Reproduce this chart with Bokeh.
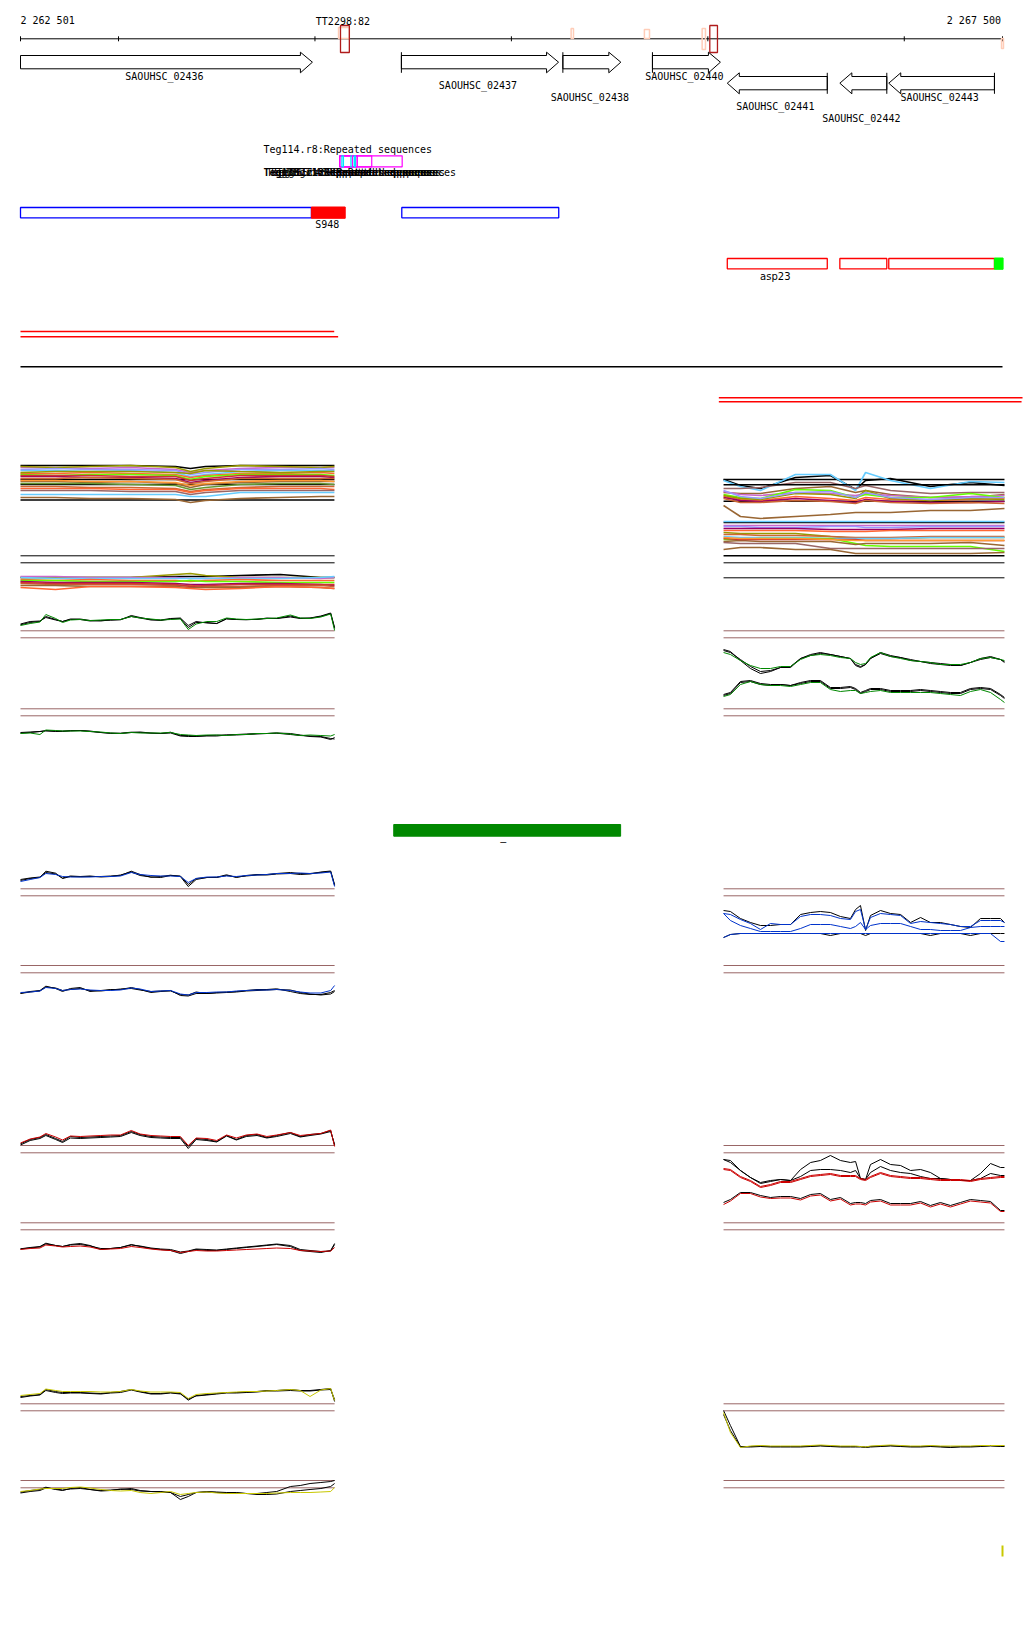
from bokeh.plotting import figure
from bokeh.models import Range1d
from bokeh.embed import file_html
from bokeh.resources import INLINE
from bokeh.core.properties import value

# ======================= DATA =======================
WIN_START = 2262501
WIN_END = 2267500
RULER_TICKS = [2262501, 2263000, 2264000, 2265000, 2266000, 2267000, 2267500]
RULER_LEFT_LABEL = "2 262 501"
RULER_RIGHT_LABEL = "2 267 500"

GENE_NAMES = ["SAOUHSC_02436", "SAOUHSC_02437", "SAOUHSC_02438", "SAOUHSC_02440",
              "SAOUHSC_02441", "SAOUHSC_02442", "SAOUHSC_02443"]
GENE_START = [2262300, 2264440, 2265262, 2265718, 2266099, 2266672, 2266921]
GENE_END = [2263987, 2265240, 2265557, 2266064, 2266608, 2266911, 2267459]
GENE_STRAND = [1, 1, 1, 1, -1, -1, -1]

TERM_NAMES = ["TT2298:82", ""]
TERM_START = [2264130, 2266010]
TERM_END = [2264175, 2266049]

TSS_START = [2264120, 2265304, 2265677, 2265971, 2267495]
TSS_END = [2264175, 2265316, 2265703, 2265988, 2267505]

REPEAT_NAMES = ["Teg114.r8:Repeated sequences", "Teg135.r1:Repeated sequences",
                "Teg136.r4:Repeated sequences", "Teg137.r2:Repeated sequences",
                "Teg115.r6:Repeated sequences", "Teg116.r3:Repeated sequences",
                "Teg117.r5:Repeated sequences"]
REPEAT_START = [2264126, 2264126, 2264126, 2264137, 2264183, 2264191, 2264200]
REPEAT_END = [2264444, 2264289, 2264215, 2264145, 2264191, 2264215, 2264206]

TRANSCRIPT_START = [2262501, 2264442]
TRANSCRIPT_END = [2263982, 2265241]
SRNA_NAMES = ["S948"]
SRNA_START = [2263982]
SRNA_END = [2264154]

OPERON_NAMES = ["asp23", "", ""]
OPERON_START = [2266099, 2266672, 2266921]
OPERON_END = [2266608, 2266911, 2267459]
OPERON_END_MARK = [2267459, 2267503]

TILE_START = [2262501, 2262501, 2266056, 2266056]
TILE_END = [2264098, 2264118, 2267602, 2267597]

SEG_NAMES = ["\u2013"]
SEG_START = [2264401]
SEG_END = [2265556]
SPOT_POS = [2267500]

# expression profiles: sample positions (bp) and signal levels
LEFT_POS = [2262501, 2262550, 2262600, 2262630, 2262680, 2262715, 2262755, 2262805, 2262855, 2262910,
            2262960, 2263010, 2263065, 2263110, 2263165, 2263215, 2263265, 2263315, 2263355, 2263395,
            2263450, 2263500, 2263550, 2263600, 2263650, 2263705, 2263755, 2263805, 2263875, 2263925,
            2263975, 2264030, 2264080, 2264100]
RIGHT_POS = [2266080, 2266115, 2266166, 2266217, 2266268, 2266319, 2266370, 2266421, 2266472, 2266523,
             2266573, 2266624, 2266675, 2266726, 2266752, 2266777, 2266803, 2266828, 2266879, 2266930,
             2266981, 2267032, 2267083, 2267133, 2267184, 2267235, 2267286, 2267337, 2267388, 2267439,
             2267490, 2267510]
LM_POS = [2262501, 2262679, 2262857, 2263061, 2263290, 2263366, 2263443, 2263620, 2263824, 2264028, 2264099]
RM_POS = [2266080, 2266166, 2266268, 2266446, 2266624, 2266752, 2266803, 2266930, 2267133, 2267337, 2267510]

LG1_BLACK = [5.7,8,9,14,11,9,11,11,9.5,10, 10.3,10.7,15,13,11,10,11.5,12,3,8, 8,7,12,11,10.7,11.3,12,12,14.5,12.3, 12.3,14,17,2]
LG1_BLACK2 = [6.5,9,9.5,13,10.5,9,11.5,11.5,10,9.5, 10.7,11,14,12.5,10.5,10.5,12,12.5,5,9, 7.5,7,11.5,11,11,11,12.5,12,13.5,12, 12.5,14.5,17.5,3]
LG1_GREEN = [5,7,8.5,16,12,8,10.5,11,10,10.5, 11,11,14,12.5,11.5,10.5,11,11.5,1,6.5, 9,9,12.5,11.5,11,11.5,12,12.5,15.5,12.5, 12,13.5,16.5,0]
LG2_BLACK = [12.3,13,14,15,14.5,14.5,15,15,14,13, 12.5,12.3,13.3,13,12.3,12,13.3,10,10,9.5, 10,10.3,10.5,11,11.5,12,12,12.3,11,10, 9.5,9,7,6.5]
LG2_BLACK2 = [13,13.5,14,14.5,14,14,14.5,15,14.5,13, 12,12,13,13.5,12.5,12,12.5,9.5,9,9, 9.5,9.5,10.5,10.5,11,11.5,12,12.5,12,10.5, 9,8.5,6,8]
LG2_GREEN = [12,12.5,11,15.5,15,14.5,14.5,14.5,14,13.5, 12.5,12,13,12.5,12.5,12.5,13,11,10.5,10, 10.5,10.5,10,11,11,12,12,12.5,11.5,10, 10.5,10,9.5,11]
LB1_BLACK = [8,10,11,17.3,15.3,10,12,11.7,12,12, 12.5,13,17.3,14,11.3,12,13.3,12,2,9, 11,11.3,13.7,11,13,14,14,15,16,15, 15,16,17,3]
LB1_BLACK2 = [9,10.5,11.5,16,14.5,10.5,12.5,12,12.5,11.5, 12,13.5,16.5,13,11.5,11,13,12.5,4,10, 11,11,13,11.5,12.5,13.5,13.5,14.5,15,14, 14.5,16.5,17.5,4]
LB1_BLUE = [7,9,11,15,14,12,11.5,11.5,11.5,12, 12,12.5,16,14,13,12.5,12.5,12,6,10, 11.5,11.5,12.5,12,13,13.5,14,15,15,15.5, 15,15.5,16.5,2]
LB2_BLACK = [7.3,9,10,14.3,12,9,12,13,9,10, 11,11,13,11,8,9,10,5,4.5,7, 7,8,8.5,9,10,11,11,11.7,9,7, 6,6,8,10]
LB2_BLACK2 = [7,8.5,9.5,13.5,12.5,10,11,12,10,9.5, 10.5,11.5,12,10.5,9,9.5,9.5,6,5.5,8.5, 7,7.5,8,8.5,9.5,10,10.5,11,10.5,8, 6.5,5.5,6.5,9]
LB2_BLUE = [8,8.5,9.5,13,12,10,11,11.5,10.5,10, 10,10.5,12.5,11.5,9,9.5,10,6.5,5.5,8, 8,8.5,8.5,9.5,10,10.5,10.5,11,10,8.5, 7.5,7.5,10,15]
LR1_BLACK = [6.7,11,13,16,12,9,14,13,13.5,14, 14.5,15,19,16,14,13.5,13,13,4,12, 11,9,15,11,15,16,13,15,18,14, 16,17,20,5]
LR1_BLACK2 = [5.5,10,12,15,11,8,12.5,12,12.5,13, 13.5,14,18,15,13,12.5,12,12,2,11, 10,8.5,14.5,10.5,14,15,12.5,14,17,13.5, 15,16.5,19,6]
LR1_RED = [7.5,11.5,13.5,17,13.5,10.5,14.5,14,14.5,15, 15.5,15.5,20,16.5,15,14.5,14,14,5,12.5, 12,10,15.5,12.5,15.5,16.5,14,15.5,18,15, 16,17,20.5,4]
LR2_BLACK = [11.7,13,14,17.3,15,14,16,17,15,11, 12,13,16,14,12,11,10,7,9,11, 10,10,11,12,13,14,15,16,14,10, 9,8,10,17]
LR2_BLACK2 = [11.5,12.5,13.5,16.5,15,14,15.5,16,14.5,12, 12,13,15.5,14.5,12.5,11.5,11,8.5,9.5,11.5, 11,10.5,11.5,12.5,13.5,14.5,15.5,16.5,15,11, 10,9,9.5,16]
LR2_RED = [11,12,12.5,15.5,14.5,13.5,14,14.5,13.5,11, 11.5,12,14,13,11.5,10.5,10,8,9,10, 9.5,9.5,10,10.5,11,11.5,12,12.5,12,10, 9.5,9,9.5,13]
LY1_BLACK = [7,8,9,14,12,11,11,11,10.5,10, 11,12,14,12,10,10,11,10,3.3,8, 9,10,11,11,11.5,12,13,13,14,13, 13,14,15,2]
LY1_BLACK2 = [6,7.5,8.5,13,11,10,10.5,10.5,10,9.5, 10.5,11,13.5,11.5,9.5,9.5,10.5,9.5,4.5,7.5, 8.5,9.5,10.5,10.5,11,11.5,12.5,12.5,13,12.5, 12.5,13.5,14,4]
LY1_YELLOW = [8,9,10,14.5,13,12,12,12,12,11.5, 11.5,12,14,12.5,11.5,11.5,11.5,11,5,9, 10,10.5,11,11.5,12,12,12.5,13,14,13, 7,13.5,15,3]
LY2_BLACK = [8.3,10,11,13.3,11,10,12,13,11,10, 10.5,11,12,10,9,9,8,1,4,8, 9,8.5,8,8,7,7,8,9,14,15, 17,18,19,20]
LY2_BLACK2 = [7.5,9,10,12.5,11.5,10.5,11.5,12,11,9.5, 10,11.5,11,9.5,9,8.5,8,4,6,8, 8.5,8,7.5,7.5,7,6,6,6.5,9,10, 11,12,14,17]
LY2_YELLOW = [9,10,11.5,12,12,12,13,13.5,12.5,11, 10,9.5,10,8,7,8,9,6,7,8, 8.5,7.5,7,7,7,7,7,7.5,8,8, 8,8.5,9,13]

RG1_BLACK = [31,29,20,12,7,9,13,13,22,26, 28,26,24,22,15,13,16,22,28,25, 23,20,19,17,16,15,15,18,22,24, 21,18]
RG1_BLACK2 = [30,28,21,14,9,10,13,14,22,25, 27,26,24,22,16,14,16,22,27,24, 23,21,19,18,17,16,15,18,21,23, 21,19]
RG1_GREEN = [28,26,20,15,12,12,14,14,21,25, 26,25,23,22,18,16,17,23,28,24, 22,20,19,18,16,16,16,18,22,23, 21,20]
RG2_BLACK = [11,13,24,25,22,21,21,20,23,25, 25,18,18,19,17,13,15,17,17,15, 15,15,16,15,14,13,13,17,18,17, 11,8]
RG2_BLACK2 = [10,12,23,24,21,20,21,20,22,24, 24,17,17,18,16,12,14,16,16,14, 14,14,15,14,13,12,12,16,17,16, 10,7]
RG2_GREEN = [9,11,21,24,21,20,20,19,21,23, 23,16,14,15,15,12,13,14,15,13, 13,13,13,13,12,11,10,14,16,13, 6,3]
RB_BLACK = [35,34,27,23,20,20,21,21,31,33, 34,33,29,27,36,40,15,30,35,32, 31,23,28,23,23,21,19,18,27,27, 27,23]
RB_BLACK_LOW = [8,11,12,12,12,12,12,12,12,12, 12,10,12,12,12,12,10,12,12,12, 12,12,12,10,12,12,12,10,12,12, 12,12]
RB_BLUE_A = [32,31,26,22,16,22,21,21,29,31, 31,30,27,26,34,36,16,28,32,31, 30,22,24,23,22,21,19,19,25,25, 25,23]
RB_BLUE_B = [32,25,20,17,14,14,14,14,17,21, 21,21,19,17,19,23,16,20,22,22, 22,19,16,16,15,15,15,18,19,19, 19,19]
RB_BLUE_LOW = [8,11,12,12,12,12,12,12,12,12, 12,12,12,12,12,12,12,12,12,12, 12,12,12,12,12,12,12,12,12,12, 4,4]
RR1_BLACK = [56,55,45,38,32,34,36,35,46,53, 55,60,55,53,54,37,36,51,56,51, 50,45,46,43,37,36,35,35,42,52, 48,48]
RR1_BLACK2 = [56,53,45,38,33,35,36,35,39,45, 46,46,45,43,45,37,36,43,49,45, 43,42,39,37,37,36,35,35,37,42, 40,40]
RR1_RED = [47,46,39,35,29,31,34,34,37,40, 41,42,40,40,40,37,36,39,43,40, 39,38,38,37,36,36,36,35,37,38, 39,39]
RR1_RED2 = [46,45,38,34,28,30,33,33,36,39, 40,41,39,39,39,36,35,38,42,39, 38,37,37,36,35,35,35,34,36,37, 38,38]
RR2_BLACK = [13,16,23,23,20,18,19,19,17,21, 22,16,18,12,13,13,12,15,16,12, 12,12,14,10,13,10,13,16,15,14, 5,5]
RR2_RED = [11,14.5,22,22,18.5,17,17.5,17.5,15.5,19.5, 20.5,14.5,16.5,10.5,11.5,11.5,10.5,13.5,14.5,10.5, 10.5,10.5,12.5,8.5,11.5,8.5,11.5,14.5,13.5,12.5, 4,4]
RY_BLACK = [50,35,14,14,14.5,14,14,14,14,14.5, 15,14.5,14,14,14,14,13.5,14,14.5,15, 14.5,14,14,14.5,14,13.5,14,14,14.5,15, 14.5,14.5]
RY_BLACK2 = [46,30,13.5,13.5,14,13.5,13.5,13.5,13.5,14, 14.5,14,13.5,13.5,13.5,13.5,13,13.5,14,14.5, 14,13.5,13.5,14,13.5,13,13.5,13.5,14,14.5, 14,14]
RY_YELLOW = [48,28,13,14.5,15,14.5,14.5,14.5,14.5,15, 15.5,15,14.5,14.5,14.5,14,13.5,14.5,15,15.5, 15,14.5,14.5,15,14.5,14.5,14.5,14.5,15,15, 15,15]

# multi-condition profiles (one list per condition)
LM1_PROFILES = [
    [40,40,40,40,39,37,39,40,40,40,40], [26]*11, [21]*11, [5.5]*11,
    [38,38,37,38,36,33,35,37,38,38,38], [39,38,39,40,38,34,37,40,39,38,39],
    [35,35,34,35,33,29,31,34,35,35,35], [32,32,33,32,31,28,30,32,32,33,32],
    [31,30,31,31,30,26,29,31,31,31,30], [29,29,28,28,27,23,25,28,29,29,28],
    [27,27,28,27,26,22,24,27,27,27,27], [24,24,23,24,22,18,21,23,24,24,24],
    [36,37,36,36,35,31,33,36,36,37,36], [30,30,30,29,29,25,27,30,30,30,29],
    [25,25,24,24,23,20,22,24,25,25,24], [19,19,18,18,17,14,16,18,19,19,19],
    [17,17,17,16,16,13,15,17,17,17,16], [15,15,15,14,14,11,13,15,15,15,15],
    [11,11,11,11,11,9,9,13,13,13,13], [8,8,7,7,6,3,5,7,8,9,9],
    [33,34,34,34,33,32,35,34,33,34,34], [22,22,22,21,20,16,18,21,22,22,21],
]
LM2_PROFILES = [
    [18,18,18,18,19,19,19,20,21,18,18], [18,18,18,18,21,22,20,18,18,18,18],
    [19,19,18,18,18,17,17,18,18,17,18], [18,17,17,17,17,17,17,17,17,18,19],
    [16,15,16,15,15,14,15,16,15,15,15], [15,15,14,14,14,15,14,14,13,13,13],
    [14,13,13,13,12,11,11,12,12,11,10], [12,11,11,11,10,10,9,9,10,10,9],
    [10,10,9,9,9,8,8,8,9,8,7], [8,6,9,9,8,7,6,7,9,8,7],
    [13,12,12,12,11,9,10,11,11,11,11],
]
RM_PROFILES = [
    [81]*11, [81,75,72,83,85,71,80,82,74,78,75], [80,74,70,86,86,70,88,80,72,79,78],
    [72,72,73,78,78,72,75,70,67,68,68], [68,67,67,72,74,68,70,66,63,63,66],
    [75.7]*11, [59.3]*11,
    [69,66,65,68,67,65,67,65,63,64,65], [66,63,62,71,70,63,66,63,63,67,63],
    [64,61,60,64,62,60,63,61,60,61,62], [63,60,59,62,60,58,61,59,58,58,59],
    [62,58,58,60,59,57,60,58,57,58,57], [65,62,61,67,66,62,70,62,60,62,61],
    [70,64,62,68,69,63,68,63,61,63,63], [55,44,42,44,46,48,48,48,50,50,52],
    [38]*11, [39]*11, [35]*11,
    [34,34,33,33,34,34,33,33,34,34,34], [32,32,32,32,31,31,31,31,32,32,32],
    [30,30,30,30,29,29,29,30,30,30,30], [28,27,27,27,24,22,22,22,23,23,23],
    [26,26,25,25,24,23,23,23,24,24,24], [24,23,23,23,22,22,22,22,23,23,23],
    [21,21,22,22,22,17,15,14,14,14,9], [19,20,19,19,19,16,17,17,17,18,15],
    [22,21,21,21,21,21,20,20,20,20,20], [18,17,17,17,12,12,12,12,12,12,12],
    [11,13,13,11,11,7,7,7,7,7,8], [23,22,22,22,21,20,20,20,20,20,20],
    [4.7]*11,
]

# ======================= STYLE / LAYOUT =======================
FONT = value("DejaVu Sans Mono")
LM1_COLORS = ["#000000", "#000000", "#000000", "#000000", "#cc66cc", "#999900", "#66ccff", "#ff6633",
              "#66ff00", "#990066", "#cc6633", "#996633", "#9999ff", "#cc3333", "#ff9933", "#cc6633",
              "#ff6633", "#996666", "#66ccff", "#996633", "#999900", "#669933"]
LM2_COLORS = ["#000000", "#999900", "#cc66cc", "#66ccff", "#ff6633", "#66ff00", "#990066", "#cc6633",
              "#996633", "#ff6633", "#cc3333"]
RM_COLORS = ["#000000", "#000000", "#66ccff", "#996666", "#996633", "#000000", "#000000", "#cc66cc",
             "#66ff00", "#ff6633", "#990066", "#cc6633", "#999900", "#9999ff", "#996633", "#000000",
             "#66ccff", "#cc66cc", "#9999ff", "#990066", "#ff6633", "#999900", "#cc6633", "#66ccff",
             "#66ff00", "#996633", "#cc3333", "#996666", "#996633", "#ff9933", "#000000"]
GREEN, BLUE, RED, YELLOW, BROWN = "#008800", "#0033cc", "#cc0000", "#c8c800", "#996666"

W, H = 1024, 1640
LEFT_PX, RIGHT_PX = 20, 1002          # canvas pixels of WIN_START / WIN_END
SCALE = (RIGHT_PX - LEFT_PX) / (WIN_END - WIN_START)
X0 = WIN_START - LEFT_PX / SCALE
X1 = X0 + W / SCALE


def gx(px):
    return X0 + px / SCALE


p = figure(width=W, height=H, x_range=Range1d(X0, X1), y_range=Range1d(H, 0),
           output_backend="svg", toolbar_location=None, min_border=0,
           x_axis_location=None, y_axis_location=None)
p.grid.visible = False
p.outline_line_color = None
p.background_fill_color = "white"
p.border_fill_color = "white"


def txt(x, y, s, align="center", font=FONT, size="10px", color="black", style="normal"):
    p.text(x=[x], y=[y], text=[s], text_font=font, text_font_size=size,
           text_align=align, text_baseline="middle", text_color=color, text_font_style=style)


# ---- ruler ----
p.segment(x0=[WIN_START], y0=[38.3], x1=[WIN_END], y1=[38.3], line_color="black", line_width=1)
p.segment(x0=RULER_TICKS, y0=[35.8] * len(RULER_TICKS), x1=RULER_TICKS, y1=[40.8] * len(RULER_TICKS),
          line_color="black", line_width=1)
txt(WIN_START, 20, RULER_LEFT_LABEL, align="left")
txt(WIN_END - 1.5 / SCALE, 20, RULER_RIGHT_LABEL, align="right")

# TSS marks (light) and terminators (dark red)
TSS_TOP = [27, 28, 29, 28, 38]
TSS_BOT = [38, 38, 38, 49, 48]
p.quad(left=TSS_START, right=TSS_END, top=TSS_TOP, bottom=TSS_BOT, fill_color=None,
       line_color="#ffcdb8", line_width=1.5)
p.quad(left=TERM_START, right=TERM_END, top=[25] * 2, bottom=[52] * 2, fill_color=None,
       line_color="#b01c1c", line_width=1.3)
for n, s, e in zip(TERM_NAMES, TERM_START, TERM_END):
    if n:
        txt((s + e) / 2 - 2 / SCALE, 20.5, n)

# ---- genes ----
head = 12 / SCALE
FWD = (55, 68.3, 51.7, 72.3, 61.7)
REV = (76, 89.3, 72.3, 93.3, 82.7)
LABEL_ROW_Y = [76, 85, 97, 76, 106, 118, 97]
gxs, gys, bx, by0, by1 = [], [], [], [], []
for name, s, e, st, ly in zip(GENE_NAMES, GENE_START, GENE_END, GENE_STRAND, LABEL_ROW_Y):
    s0, e0 = max(s, WIN_START), min(e, WIN_END)
    h = min(head, e0 - s0)
    if st > 0:
        t, b, ht, hb, m = FWD
        gxs.append([s0, e0 - h, e0 - h, e0, e0 - h, e0 - h, s0])
        if s >= WIN_START:
            bx.append(s0); by0.append(ht); by1.append(hb)
    else:
        t, b, ht, hb, m = REV
        gxs.append([e0, s0 + h, s0 + h, s0, s0 + h, s0 + h, e0])
        if e <= WIN_END:
            bx.append(e0); by0.append(ht); by1.append(hb)
    gys.append([t, t, ht, m, hb, b, b])
    txt((s0 + e0) / 2 - 2 / SCALE, ly, name)
p.patches(gxs, gys, fill_color="white", line_color="black", line_width=1)
p.segment(x0=bx, y0=by0, x1=bx, y1=by1, line_color="black", line_width=1)

# ---- repeats ----
REPEAT_COLORS = ["#ff00ff", "#ff00ff", "#ff00ff", "#00e5ff", "#00e5ff", "#ff00ff", "#00e5ff"]
REPEAT_LABEL_LEFT = [263, 263, 266, 269, 272, 287, 276]
REPEAT_LABEL_Y = [149, 172, 172, 172, 172, 172, 172]
REPEAT_LABEL_STYLE = ["normal", "bold", "normal", "normal", "normal", "normal", "normal"]
p.quad(left=REPEAT_START, right=REPEAT_END, top=[155.3] * 7, bottom=[166.3] * 7,
       fill_color=None, line_color=REPEAT_COLORS, line_width=1.2)
for n, lx, ly, st in zip(REPEAT_NAMES, REPEAT_LABEL_LEFT, REPEAT_LABEL_Y, REPEAT_LABEL_STYLE):
    txt(gx(lx), ly, n, align="left", style=st)

# ---- transcripts / sRNA ----
p.quad(left=TRANSCRIPT_START, right=TRANSCRIPT_END, top=[207] * 2, bottom=[217.3] * 2,
       fill_color=None, line_color="#0000ff", line_width=1.3)
p.quad(left=SRNA_START, right=SRNA_END, top=[206.5], bottom=[217.8],
       fill_color="#ff0000", line_color="#ff0000", line_width=1)
for n, s, e in zip(SRNA_NAMES, SRNA_START, SRNA_END):
    txt((s + e) / 2 - 1 / SCALE, 224, n)

# ---- operon boxes ----
p.quad(left=OPERON_START, right=OPERON_END, top=[258] * 3, bottom=[268.3] * 3,
       fill_color=None, line_color="#ff0000", line_width=1.3)
p.quad(left=[OPERON_END_MARK[0]], right=[OPERON_END_MARK[1]], top=[257.5], bottom=[268.8],
       fill_color="#00ff00", line_color="#00ff00")
for n, s, e in zip(OPERON_NAMES, OPERON_START, OPERON_END):
    if n:
        txt((s + e) / 2 - 2 / SCALE, 275.5, n, font=value("DejaVu Sans"))

# ---- tiling lines ----
p.segment(x0=TILE_START, y0=[331, 336.3, 397.3, 401.3], x1=TILE_END, y1=[331, 336.3, 397.3, 401.3],
          line_color="#ff0000", line_width=1.4)
p.segment(x0=[WIN_START], y0=[366.3], x1=[WIN_END], y1=[366.3], line_color="black", line_width=1.4)

# ---- frames ----
lx0, lx1 = LEFT_POS[0], LEFT_POS[-1]
rx0, rx1 = RIGHT_POS[0], RIGHT_POS[-1]
BROWN_Y = [630.3, 637.3, 708.3, 715.3, 888.3, 895.3, 965, 972.3,
           1145, 1152.3, 1222.3, 1229.3, 1403.3, 1410.3, 1480, 1487.3]
p.segment(x0=[lx0] * 16, y0=BROWN_Y, x1=[lx1] * 16, y1=BROWN_Y, line_color=BROWN, line_width=1)
p.segment(x0=[rx0] * 16, y0=BROWN_Y, x1=[rx1] * 16, y1=BROWN_Y, line_color=BROWN, line_width=1)
p.segment(x0=[lx0, lx0], y0=[555.3, 562.3], x1=[lx1, lx1], y1=[555.3, 562.3], line_color="black", line_width=1)
p.segment(x0=[rx0, rx0], y0=[562.3, 577.3], x1=[rx1, rx1], y1=[562.3, 577.3], line_color="black", line_width=1)


# ---- profiles ----
def profiles(xs, ref, series, lw=1.0):
    for vals, col in series:
        n = min(len(xs), len(vals))
        p.line(xs[:n], [ref - v for v in vals[:n]], line_color=col, line_width=lw)


profiles(LM_POS, 505, list(zip(LM1_PROFILES, LM1_COLORS)), lw=1.6)
profiles(LM_POS, 595, list(zip(LM2_PROFILES, LM2_COLORS)), lw=1.6)
profiles(RM_POS, 560, list(zip(RM_PROFILES, RM_COLORS)), lw=1.6)

profiles(LEFT_POS, 630, [(LG1_BLACK, "black"), (LG1_BLACK2, "black"), (LG1_GREEN, GREEN)])
profiles(LEFT_POS, 745, [(LG2_BLACK, "black"), (LG2_BLACK2, "black"), (LG2_GREEN, GREEN)])
profiles(LEFT_POS, 888, [(LB1_BLACK, "black"), (LB1_BLACK2, "black"), (LB1_BLUE, BLUE)])
profiles(LEFT_POS, 1000, [(LB2_BLACK, "black"), (LB2_BLACK2, "black"), (LB2_BLUE, BLUE)])
profiles(LEFT_POS, 1150, [(LR1_BLACK, "black"), (LR1_BLACK2, "black"), (LR1_RED, RED)])
profiles(LEFT_POS, 1260, [(LR2_BLACK, "black"), (LR2_BLACK2, "black"), (LR2_RED, RED)])
profiles(LEFT_POS, 1403, [(LY1_BLACK, "black"), (LY1_BLACK2, "black"), (LY1_YELLOW, YELLOW)])
profiles(LEFT_POS, 1500, [(LY2_BLACK, "black"), (LY2_BLACK2, "black"), (LY2_YELLOW, YELLOW)])

profiles(RIGHT_POS, 680, [(RG1_BLACK, "black"), (RG1_BLACK2, "black"), (RG1_GREEN, GREEN)])
profiles(RIGHT_POS, 705, [(RG2_BLACK, "black"), (RG2_BLACK2, "black"), (RG2_GREEN, GREEN)])
profiles(RIGHT_POS, 945, [(RB_BLACK, "black"), (RB_BLACK_LOW, "black"), (RB_BLUE_A, BLUE),
                          (RB_BLUE_B, BLUE), (RB_BLUE_LOW, BLUE)])
profiles(RIGHT_POS, 1215, [(RR1_BLACK, "black"), (RR1_BLACK2, "black"), (RR1_RED, RED),
                           (RR1_RED2, RED), (RR2_BLACK, "black"), (RR2_RED, RED)])
profiles(RIGHT_POS, 1460, [(RY_BLACK, "black"), (RY_BLACK2, "black"), (RY_YELLOW, YELLOW)])

# ---- segment bar ----
p.quad(left=SEG_START, right=SEG_END, top=[824], bottom=[835.7], fill_color=GREEN, line_color=GREEN)
for n, s, e in zip(SEG_NAMES, SEG_START, SEG_END):
    txt((s + e) / 2 - 4 / SCALE, 841, n)

# ---- spot ----
p.segment(x0=SPOT_POS, y0=[1545], x1=SPOT_POS, y1=[1556], line_color=YELLOW, line_width=2)

open("out.html", "w").write(file_html(p, INLINE))
